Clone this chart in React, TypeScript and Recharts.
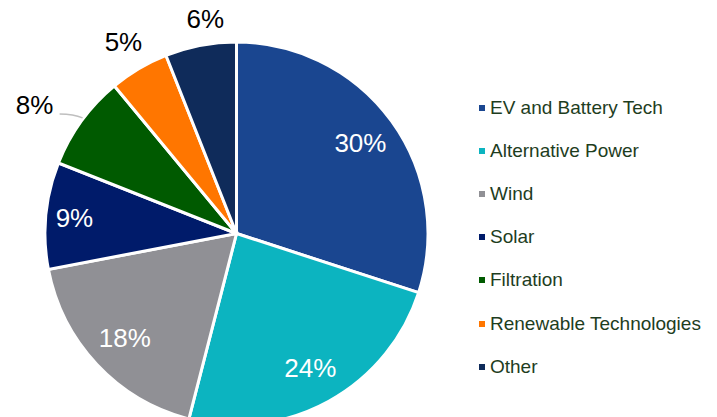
import { Cell, Legend, Pie, PieChart } from 'recharts';

const categories = [
  'EV and Battery Tech',
  'Alternative Power',
  'Wind',
  'Solar',
  'Filtration',
  'Renewable Technologies',
  'Other',
];
const shares = [30, 24, 18, 9, 8, 5, 6];
const colors = ['#1a4690', '#0cb4c0', '#909095', '#001b6a', '#005a00', '#ff7600', '#0f2b5a'];

const data = categories.map((name, i) => ({ name, value: shares[i] }));

const RAD = Math.PI / 180;
const FONT = "'Liberation Sans', Arial, sans-serif";

// label radius relative to outer radius, per slice
const labelRadius = [0.8, 0.8, 0.8, 0.85, 1.25, 1.16, 1.13];
const labelAngleShift = [0, 0, 0, 0, 3.5, 0, -2.5];

function renderLabel(props: any) {
  const { cx, cy, midAngle, outerRadius, index, value } = props;
  const a = (midAngle + labelAngleShift[index]) * RAD;
  const r = outerRadius * labelRadius[index];
  const x = cx + r * Math.cos(a);
  const y = cy - r * Math.sin(a);
  const inside = labelRadius[index] < 1;
  const showLine = index === 4;
  const ex = cx + outerRadius * Math.cos(midAngle * RAD);
  const ey = cy - outerRadius * Math.sin(midAngle * RAD);
  return (
    <g>
      {showLine && (
        <path
          d={`M${ex + 1},${ey - 3} Q${ex - 8},${ey - 7} ${x + 25},${y + 9}`}
          stroke="#bfbfbf"
          strokeWidth={1.5}
          fill="none"
        />
      )}
      <text
        x={x}
        y={y}
        fill={inside ? '#ffffff' : '#000000'}
        textAnchor="middle"
        dominantBaseline="central"
        fontSize={26}
        fontFamily={FONT}
      >
        {`${value}%`}
      </text>
    </g>
  );
}

function LegendList() {
  return (
    <div style={{ fontFamily: FONT }}>
      {categories.map((name, i) => (
        <div
          key={name}
          style={{ display: 'flex', alignItems: 'center', height: 43.2, fontSize: 19, color: '#1e3d1e' }}
        >
          <span
            style={{ width: 6, height: 6, background: colors[i], display: 'inline-block', marginRight: 5 }}
          />
          <span>{name}</span>
        </div>
      ))}
    </div>
  );
}

export default function App() {
  return (
    <div style={{ position: 'absolute', left: 0, top: 0, width: 717, height: 417, background: '#fff' }}>
      <PieChart width={717} height={417} margin={{ top: 0, right: 0, bottom: 0, left: 0 }}>
        <Pie
          data={data}
          dataKey="value"
          nameKey="name"
          cx={236.5}
          cy={233.5}
          outerRadius={191.5}
          startAngle={90}
          endAngle={-270}
          stroke="#ffffff"
          strokeWidth={3}
          label={renderLabel}
          labelLine={false}
          isAnimationActive={false}
        >
          {data.map((d, i) => (
            <Cell key={d.name} fill={colors[i]} />
          ))}
        </Pie>
        <Legend
          layout="vertical"
          content={<LegendList />}
          wrapperStyle={{ left: 479, top: 86, width: 238 }}
        />
      </PieChart>
    </div>
  );
}
